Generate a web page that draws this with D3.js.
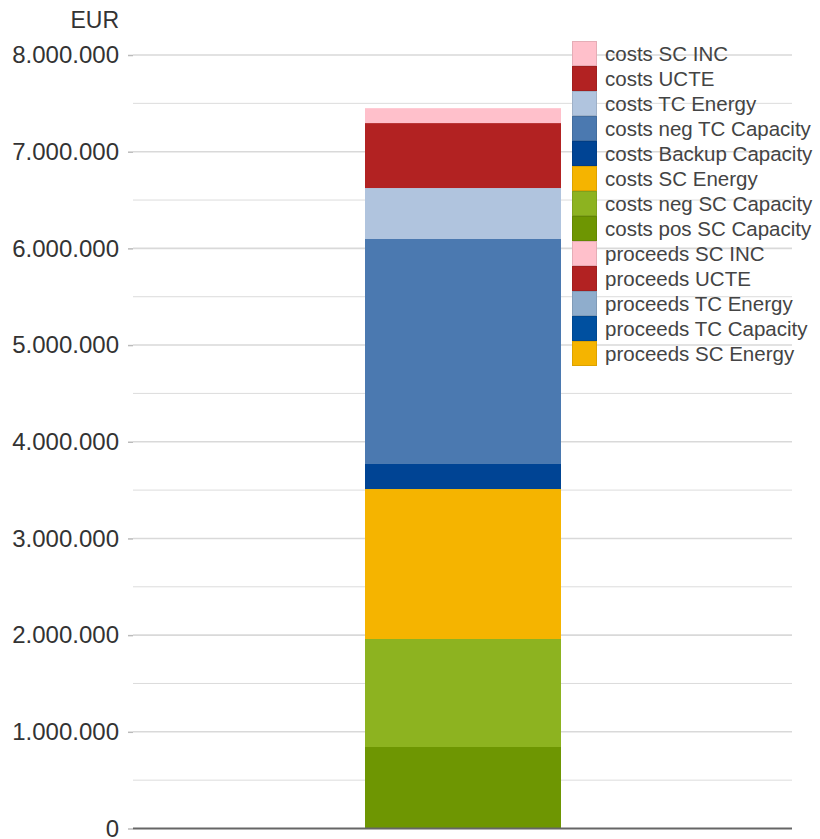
<!DOCTYPE html>
<html><head><meta charset="utf-8">
<script src="https://cdn.jsdelivr.net/npm/d3@7"></script>
<style>body{margin:0;background:#fff}svg{display:block}</style>
</head><body>
<svg id="c" width="820" height="839"></svg>
<script>
const categories = ["Total"];
const seriesNames = ["costs pos SC Capacity","costs neg SC Capacity","costs SC Energy","costs Backup Capacity","costs neg TC Capacity","costs TC Energy","costs UCTE","costs SC INC","proceeds SC Energy","proceeds TC Capacity","proceeds TC Energy","proceeds UCTE","proceeds SC INC"];
const seriesValues = [843000,1117000,1551000,259000,2327000,527000,672000,154000,0,0,0,0,0];
const seriesColors = ["#6e9602","#8db320","#f5b400","#004494","#4b79b0","#b0c4de","#b22222","#ffc0cb","#f5b400","#0050a0","#8fadcc","#b22222","#ffc0cb"];
const legendOrder = ["costs SC INC","costs UCTE","costs TC Energy","costs neg TC Capacity","costs Backup Capacity","costs SC Energy","costs neg SC Capacity","costs pos SC Capacity","proceeds SC INC","proceeds UCTE","proceeds TC Energy","proceeds TC Capacity","proceeds SC Energy"];
const tickValues = [0,1000000,2000000,3000000,4000000,5000000,6000000,7000000,8000000];
const minorTicks = [500000,1500000,2500000,3500000,4500000,5500000,6500000,7500000];
const unitLabel = "EUR";

(function () {
const svg = d3.select("#c");
const mLeft = 133, mRight = 792, mTop = 55, mBottom = 828.5;
const y = d3.scaleLinear().domain([0, 8000000]).range([mBottom, mTop]);
const color = d3.scaleOrdinal().domain(seriesNames).range(seriesColors);
const fmt = v => d3.format(",")(v).replace(/,/g, ".");
const FF = "Liberation Sans, Arial, sans-serif";

// gridlines
svg.append("g").selectAll("line").data(minorTicks).join("line")
  .attr("x1", mLeft).attr("x2", mRight).attr("y1", d => y(d)).attr("y2", d => y(d))
  .attr("stroke", "#dcdcdc").attr("stroke-width", 1);
svg.append("g").selectAll("line").data(tickValues.filter(d => d > 0)).join("line")
  .attr("x1", mLeft).attr("x2", mRight).attr("y1", d => y(d)).attr("y2", d => y(d))
  .attr("stroke", "#d9d9d9").attr("stroke-width", 1.6);

// axis
const ax = svg.append("g").attr("transform", `translate(${mLeft},0)`)
  .call(d3.axisLeft(y).tickValues(tickValues).tickFormat(fmt).tickSize(5).tickPadding(9));
ax.select(".domain").remove();
ax.selectAll(".tick line").attr("stroke", "#bbb").attr("stroke-width", 1.5);
ax.selectAll("text").attr("font-family", FF).attr("font-size", 24).attr("fill", "#333");
svg.append("text").attr("x", 119).attr("y", 28).attr("text-anchor", "end")
  .attr("font-family", FF).attr("font-size", 23).attr("fill", "#333").text(unitLabel);

// stacked bar
const rowObj = {cat: categories[0]};
seriesNames.forEach((s, i) => rowObj[s] = seriesValues[i]);
const stacked = d3.stack().keys(seriesNames)([rowObj]);
const x = d3.scaleBand().domain(categories).range([365, 561]);
svg.append("g").selectAll("rect").data(stacked.filter(s => s[0][1] - s[0][0] > 0)).join("rect")
  .attr("x", x(categories[0])).attr("width", x.bandwidth())
  .attr("y", s => y(s[0][1])).attr("height", s => y(s[0][0]) - y(s[0][1]))
  .attr("fill", s => color(s.key));

// baseline
svg.append("line").attr("x1", mLeft).attr("x2", mRight).attr("y1", y(0)).attr("y2", y(0))
  .attr("stroke", "#666").attr("stroke-width", 2);

// legend
const lg = svg.append("g").attr("transform", "translate(572,41)");
const items = lg.selectAll("g").data(legendOrder).join("g").attr("transform", (d, i) => `translate(0,${i * 25})`);
items.append("rect").attr("x", 0.5).attr("y", 0.5).attr("width", 24).attr("height", 24)
  .attr("fill", d => color(d)).attr("stroke", d => d3.color(color(d)).darker(0.3)).attr("stroke-width", 1);
items.append("text").attr("x", 33).attr("y", 19.5)
  .attr("font-family", FF).attr("font-size", 20.5).attr("fill", "#444").text(d => d);
})();
</script>
</body></html>
